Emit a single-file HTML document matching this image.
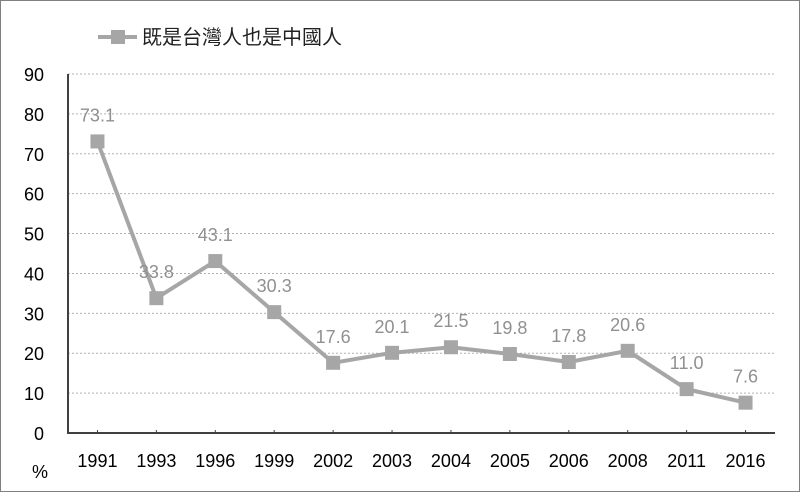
<!DOCTYPE html>
<html><head><meta charset="utf-8"><style>
body{margin:0;background:#fff}
svg{display:block;font-family:"Liberation Sans","Noto Sans CJK TC",sans-serif}
</style></head><body>
<svg id="c" width="800" height="492">
<rect x="0.5" y="0.5" width="799" height="491" fill="#fff" stroke="#808080"/>
<g id="grid"></g>
<g id="axes"></g>
<g id="series"></g>
<g>
<line x1="98" y1="37" x2="137" y2="37" stroke="#a6a6a6" stroke-width="4"/>
<rect x="111" y="30" width="14" height="14" fill="#a6a6a6"/>
<text x="142" y="44" font-size="20" fill="#222">既是台灣人也是中國人</text>
</g>
<text x="40" y="478" font-size="18" text-anchor="middle" fill="#000">%</text>
</svg>
<script>
const categories=["1991","1993","1996","1999","2002","2003","2004","2005","2006","2008","2011","2016"];
const values=[73.1,33.8,43.1,30.3,17.6,20.1,21.5,19.8,17.8,20.6,11.0,7.6];
const yTicks=[0,10,20,30,40,50,60,70,80,90];
const NS="http://www.w3.org/2000/svg";
const x0=68,x1=775,y0=433,yTop=74;
const step=(x1-x0)/categories.length;
const xs=i=>x0+step*(i+0.5);
const ys=v=>y0-(v/90)*(y0-yTop);
function mk(tag,attrs,parent){const e=document.createElementNS(NS,tag);for(const k in attrs)e.setAttribute(k,attrs[k]);parent.appendChild(e);return e;}
const grid=document.getElementById('grid'),axes=document.getElementById('axes'),ser=document.getElementById('series');
yTicks.forEach(t=>{
 if(t>0){const l=mk('line',{x1:x0,x2:x1,y1:ys(t),y2:ys(t),stroke:'#b0b0b0','stroke-dasharray':'2,2','stroke-width':1},grid);
 
 }
 const tx=mk('text',{x:44,y:ys(t)+7,'font-size':18,'text-anchor':'end',fill:'#000'},axes);
 tx.textContent=t;
 
 
});
const ya=mk('line',{x1:x0,x2:x0,y1:yTop,y2:y0+1,stroke:'#404040','stroke-width':2},axes);


const xa=mk('line',{x1:x0-1,x2:x1,y1:y0,y2:y0,stroke:'#404040','stroke-width':2},axes);


categories.forEach((c,i)=>{
 const tk=mk('line',{x1:xs(i),x2:xs(i),y1:y0,y2:y0-3,stroke:'#404040','stroke-width':1},axes);
 
 
 const tx=mk('text',{x:xs(i),y:467,'font-size':18,'text-anchor':'middle',fill:'#000'},axes);
 tx.textContent=c;
 
 
});
const pl=mk('polyline',{points:values.map((v,i)=>xs(i)+','+ys(v)).join(' '),fill:'none',stroke:'#a6a6a6','stroke-width':4,'stroke-linejoin':'round'},ser);


values.forEach((v,i)=>{
 const r=mk('rect',{x:xs(i)-7,y:ys(v)-7,width:14,height:14,fill:'#a6a6a6'},ser);
 
 
 const t=mk('text',{x:xs(i),y:ys(v)-20,'font-size':18,'text-anchor':'middle',fill:'#909090'},ser);
 t.textContent=v.toFixed(1);
 
 
});
</script>
</body></html>
